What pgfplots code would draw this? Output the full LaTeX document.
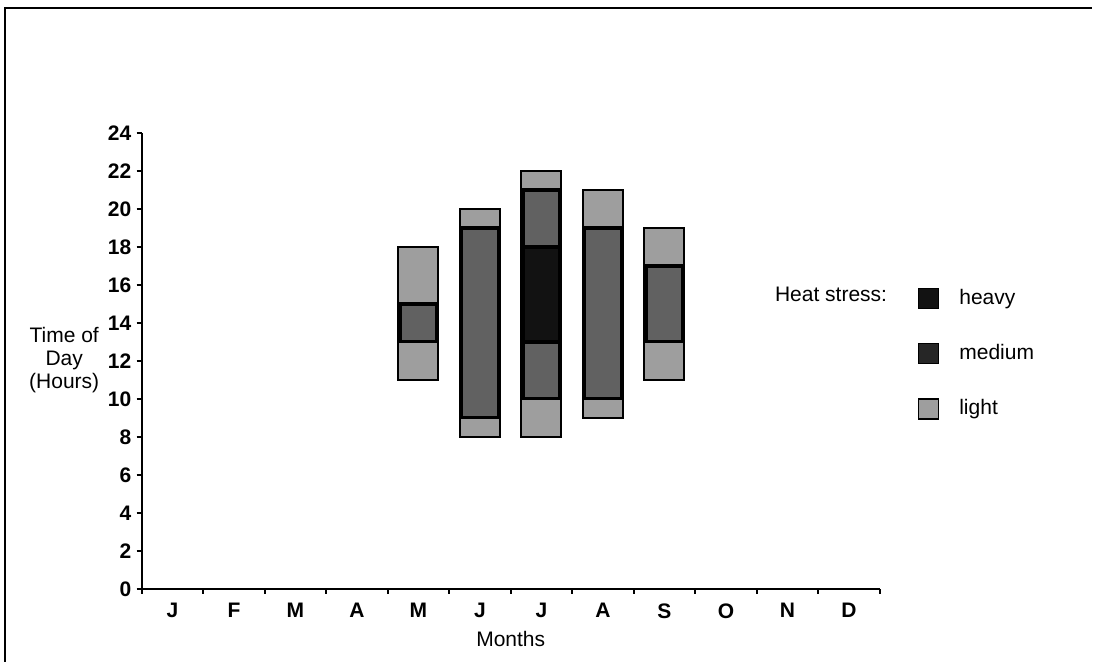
\documentclass[border=0pt]{standalone}
\usepackage{pgfplots}
\pgfplotsset{compat=1.18}
\usepackage{fontspec}
\setmainfont{Liberation Sans}
\definecolor{lightc}{gray}{0.62}
\definecolor{medc}{gray}{0.38}
\definecolor{heavyc}{gray}{0.07}
\begin{document}
\fontsize{10.5}{11.3}\selectfont
\begin{tikzpicture}
\useasboundingbox (-70.85pt,-36.5pt) rectangle (476.15pt,294.5pt);
\draw[line width=1.3pt] (475pt,290.5pt) -- (-68.35pt,290.5pt) -- (-68.35pt,-36.5pt);
\begin{axis}[
  scale only axis, width=369pt, height=228pt,
  at={(0,0)}, anchor=south west,
  clip=false,
  xmin=0, xmax=12, ymin=0, ymax=24,
  axis x line*=bottom, axis y line*=left,
  axis line style={line width=1pt, black},
  xtick={0,...,12}, x tick label as interval,
  xticklabels={J,F,M,A,M,J,J,A,S,O,N,D},
  ytick={0,2,...,24},
  tick align=outside, major tick length=2.5pt,
  tick style={line width=0.9pt, black},
  /pgf/number format/assume math mode=true,
  ticklabel style={font=\fontsize{10.5}{12}\selectfont\bfseries},
  xticklabel style={yshift=-1pt},
  yticklabel style={xshift=1pt},
  xlabel={Months},
  xlabel style={at={(axis description cs:0.5,-0.1096)}, anchor=center},
  ylabel={Time of\\Day\\(Hours)},
  ylabel style={rotate=-90, align=center, at={(axis description cs:-0.105,0.502)}, anchor=center},
  ybar stacked, bar width=20pt,
  legend image code/.code={\draw[#1] (0pt,-2pt) rectangle (10pt,8pt);},
  legend style={draw=none, fill=none, at={(rel axis cs:1.051,0.662)}, anchor=north west,
    inner sep=0pt, row sep=16.8pt, column sep=10pt,
    nodes={inner sep=0pt, anchor=base west}},
  legend cell align=left,
]
\addplot[draw=none, fill=none, forget plot] coordinates {(4.5,11) (5.5,8) (6.5,8) (7.5,9) (8.5,11)};
\addplot[fill=lightc, draw=black, line width=1pt, forget plot] coordinates {(4.5,2) (5.5,1) (6.5,2) (7.5,1) (8.5,2)};
\addplot[fill=medc, draw=black, line width=2.2pt, bar width=18.8pt, forget plot] coordinates {(4.5,2) (5.5,10) (6.5,3) (7.5,9) (8.5,4)};
\addplot[fill=heavyc, draw=black, line width=2.2pt, bar width=18.8pt, forget plot] coordinates {(4.5,0) (5.5,0) (6.5,5) (7.5,0) (8.5,0)};
\addplot[fill=medc, draw=black, line width=2.2pt, bar width=18.8pt, forget plot] coordinates {(4.5,0) (5.5,0) (6.5,3) (7.5,0) (8.5,0)};
\addplot[fill=lightc, draw=black, line width=1pt, forget plot] coordinates {(4.5,3) (5.5,1) (6.5,1) (7.5,2) (8.5,2)};
\addlegendimage{fill=heavyc, draw=black, line width=0.8pt}
\addlegendentry{heavy}
\addlegendimage{fill=black!85, draw=black, line width=0.8pt}
\addlegendentry{medium}
\addlegendimage{fill=lightc, draw=black, line width=0.8pt}
\addlegendentry{light}
\node[anchor=west, inner sep=0pt] at (rel axis cs:0.8576,0.645) {Heat stress:};
\end{axis}
\end{tikzpicture}
\end{document}
